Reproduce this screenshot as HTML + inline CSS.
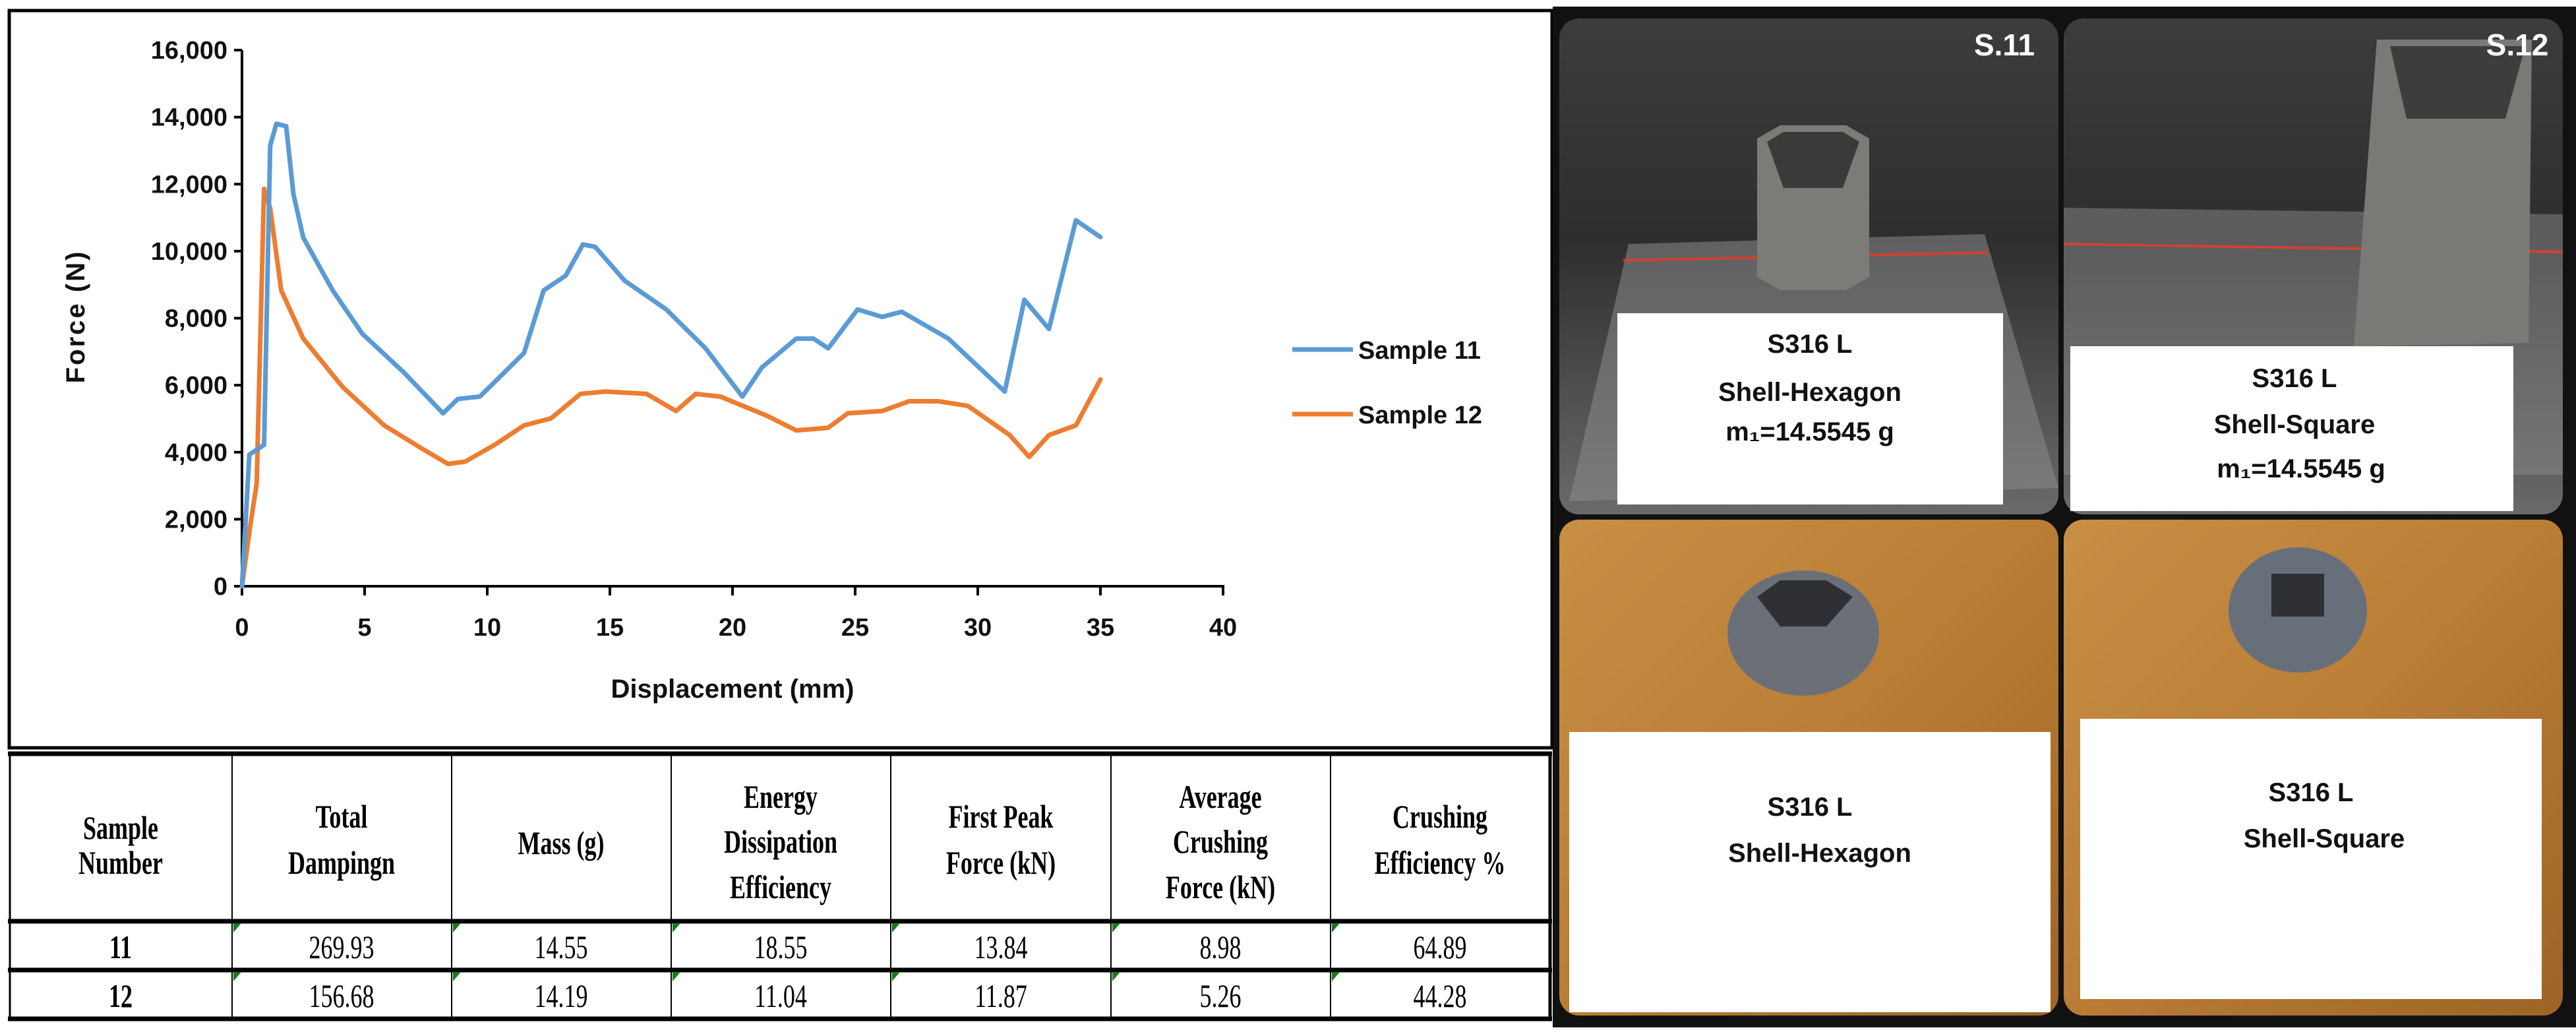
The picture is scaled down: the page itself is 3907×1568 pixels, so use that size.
<!DOCTYPE html>
<html><head><meta charset="utf-8"><style>
html,body{margin:0;padding:0;background:#fff;}
svg{display:block;}
.t{font-family:"Liberation Sans",sans-serif;font-weight:bold;}
.s{font-family:"Liberation Serif",serif;}
</style></head><body>
<svg id="root" width="3907" height="1568" viewBox="0 0 3907 1568" xmlns="http://www.w3.org/2000/svg">
<defs>
<linearGradient id="gdark" x1="0" y1="0" x2="0" y2="1"><stop offset="0" stop-color="#3c3c3c"/><stop offset="0.45" stop-color="#2e2e2e"/><stop offset="1" stop-color="#6a6a6a"/></linearGradient>
<linearGradient id="gwood" x1="0" y1="0" x2="1" y2="1"><stop offset="0" stop-color="#c98f45"/><stop offset="0.5" stop-color="#b97d36"/><stop offset="1" stop-color="#9c6426"/></linearGradient>
</defs>
<!-- chart frame -->
<rect x="14" y="16" width="2340" height="1118" fill="#fff" stroke="#000" stroke-width="5"/>
<g id="chart"></g>

<!-- table -->
<g id="table">
<rect x="15" y="1143" width="2336" height="402" fill="#fff" stroke="none"/>
<line x1="12" y1="1143" x2="2354" y2="1143" stroke="#000" stroke-width="7"/>
<line x1="12" y1="1397" x2="2354" y2="1397" stroke="#000" stroke-width="7"/>
<line x1="12" y1="1471" x2="2354" y2="1471" stroke="#000" stroke-width="7"/>
<line x1="12" y1="1545" x2="2354" y2="1545" stroke="#000" stroke-width="7"/>
<line x1="15" y1="1143" x2="15" y2="1545" stroke="#000" stroke-width="3"/>
<line x1="352" y1="1143" x2="352" y2="1545" stroke="#000" stroke-width="2"/>
<line x1="685" y1="1143" x2="685" y2="1545" stroke="#000" stroke-width="2"/>
<line x1="1018" y1="1143" x2="1018" y2="1545" stroke="#000" stroke-width="2"/>
<line x1="1351" y1="1143" x2="1351" y2="1545" stroke="#000" stroke-width="2"/>
<line x1="1685" y1="1143" x2="1685" y2="1545" stroke="#000" stroke-width="2"/>
<line x1="2018" y1="1143" x2="2018" y2="1545" stroke="#000" stroke-width="2"/>
<line x1="2351" y1="1143" x2="2351" y2="1545" stroke="#000" stroke-width="5"/>
<g class="s" font-weight="bold" font-size="50" text-anchor="middle" fill="#000">
<g><text transform="translate(183,1272) scale(0.72,1)">Sample</text><text transform="translate(183,1325) scale(0.72,1)">Number</text></g>
<g><text transform="translate(518,1255) scale(0.72,1)">Total</text><text transform="translate(518,1325) scale(0.72,1)">Dampingn</text></g>
<g><text transform="translate(851,1295) scale(0.72,1)">Mass (g)</text></g>
<g><text transform="translate(1184,1225) scale(0.72,1)">Energy</text><text transform="translate(1184,1293) scale(0.72,1)">Dissipation</text><text transform="translate(1184,1362) scale(0.72,1)">Efficiency</text></g>
<g><text transform="translate(1518,1255) scale(0.72,1)">First Peak</text><text transform="translate(1518,1325) scale(0.72,1)">Force (kN)</text></g>
<g><text transform="translate(1851,1225) scale(0.72,1)">Average</text><text transform="translate(1851,1293) scale(0.72,1)">Crushing</text><text transform="translate(1851,1362) scale(0.72,1)">Force (kN)</text></g>
<g><text transform="translate(2184,1255) scale(0.72,1)">Crushing</text><text transform="translate(2184,1325) scale(0.72,1)">Efficiency %</text></g>
<text transform="translate(183,1453) scale(0.72,1)">11</text>
<text transform="translate(183,1527) scale(0.72,1)">12</text>
</g>
<g class="s" font-size="50" text-anchor="middle" fill="#000">
<text transform="translate(518,1453) scale(0.72,1)">269.93</text>
<text transform="translate(851,1453) scale(0.72,1)">14.55</text>
<text transform="translate(1184,1453) scale(0.72,1)">18.55</text>
<text transform="translate(1518,1453) scale(0.72,1)">13.84</text>
<text transform="translate(1851,1453) scale(0.72,1)">8.98</text>
<text transform="translate(2184,1453) scale(0.72,1)">64.89</text>
<text transform="translate(518,1527) scale(0.72,1)">156.68</text>
<text transform="translate(851,1527) scale(0.72,1)">14.19</text>
<text transform="translate(1184,1527) scale(0.72,1)">11.04</text>
<text transform="translate(1518,1527) scale(0.72,1)">11.87</text>
<text transform="translate(1851,1527) scale(0.72,1)">5.26</text>
<text transform="translate(2184,1527) scale(0.72,1)">44.28</text>
</g>
<g fill="#1a7a1a">
<path d="M354,1400 l12,0 l-12,14z"/><path d="M687,1400 l12,0 l-12,14z"/><path d="M1020,1400 l12,0 l-12,14z"/><path d="M1353,1400 l12,0 l-12,14z"/><path d="M1687,1400 l12,0 l-12,14z"/><path d="M2020,1400 l12,0 l-12,14z"/>
<path d="M354,1474 l12,0 l-12,14z"/><path d="M687,1474 l12,0 l-12,14z"/><path d="M1020,1474 l12,0 l-12,14z"/><path d="M1353,1474 l12,0 l-12,14z"/><path d="M1687,1474 l12,0 l-12,14z"/><path d="M2020,1474 l12,0 l-12,14z"/>
</g>
</g>

<!-- photo panel -->
<g>
<rect x="2355" y="10" width="1552" height="1548" fill="#111"/>
<g>
<rect x="2365" y="28" width="757" height="752" rx="30" fill="url(#gdark)"/>
<path d="M2470,370 L3010,355 L3122,740 L2380,760z" fill="#8a8a8a" opacity="0.55"/>
<line x1="2462" y1="395" x2="3015" y2="383" stroke="#d2412e" stroke-width="4"/>
<polygon points="2665,210 2700,190 2800,190 2835,210 2835,420 2800,440 2700,440 2665,420" fill="#7d7b78"/>
<polygon points="2680,215 2705,200 2795,200 2820,215 2795,285 2705,285" fill="#3b3a38"/>
<rect x="2453" y="475" width="585" height="290" fill="#fff"/>
<text x="3040" y="84" class="t" font-size="46" fill="#fff" text-anchor="middle">S.11</text>
<g class="t" font-size="40" fill="#111" text-anchor="middle">
<text x="2745" y="535">S316 L</text>
<text x="2745" y="608">Shell-Hexagon</text>
<text x="2745" y="668">m₁=14.5545 g</text>
</g>
</g>
<g>
<rect x="3130" y="28" width="757" height="752" rx="30" fill="url(#gdark)"/>
<path d="M3130,315 L3887,325 L3887,720 L3130,720z" fill="#8a8a8a" opacity="0.5"/>
<line x1="3130" y1="370" x2="3887" y2="382" stroke="#d2412e" stroke-width="4"/>
<polygon points="3605,60 3840,60 3835,520 3570,525" fill="#7b7975"/>
<polygon points="3625,70 3830,70 3800,180 3650,180" fill="#3e3d3b"/>
<rect x="3140" y="525" width="672" height="250" fill="#fff"/>
<text x="3818" y="84" class="t" font-size="46" fill="#fff" text-anchor="middle">S.12</text>
<g class="t" font-size="40" fill="#111" text-anchor="middle">
<text x="3480" y="587">S316 L</text>
<text x="3480" y="657">Shell-Square</text>
<text x="3490" y="724">m₁=14.5545 g</text>
</g>
</g>
<g>
<rect x="2365" y="788" width="757" height="752" rx="30" fill="url(#gwood)"/>
<ellipse cx="2735" cy="960" rx="115" ry="95" fill="#6b7078"/>
<polygon points="2665,905 2700,880 2770,880 2810,905 2770,950 2700,950" fill="#2e3034"/>
<rect x="2380" y="1110" width="730" height="425" fill="#fff"/>
<g class="t" font-size="40" fill="#111" text-anchor="middle">
<text x="2745" y="1237">S316 L</text>
<text x="2760" y="1307">Shell-Hexagon</text>
</g>
</g>
<g>
<rect x="3130" y="788" width="757" height="752" rx="30" fill="url(#gwood)"/>
<ellipse cx="3485" cy="925" rx="105" ry="95" fill="#67707a"/>
<rect x="3445" y="870" width="80" height="65" fill="#2e3034"/>
<rect x="3155" y="1090" width="700" height="425" fill="#fff"/>
<g class="t" font-size="40" fill="#111" text-anchor="middle">
<text x="3505" y="1215">S316 L</text>
<text x="3525" y="1285">Shell-Square</text>
</g>
</g>
</g>
</svg>
<script>
const xTicks = [0,5,10,15,20,25,30,35,40];
const yTicks = [0,2000,4000,6000,8000,10000,12000,14000,16000];
const yTickLabels = ["0","2,000","4,000","6,000","8,000","10,000","12,000","14,000","16,000"];
const s11X = [0,0.3,0.9,1.15,1.4,1.8,2.1,2.5,3.7,4.9,6.6,8.2,8.8,9.7,11.5,12.3,13.2,13.9,14.4,15.6,17.3,18.9,20.4,21.2,22.6,23.3,23.9,25.1,26.1,26.9,28.8,31.1,31.9,32.9,34,35];
const s11Y = [0,3930,4220,13150,13800,13730,11700,10400,8830,7540,6380,5160,5590,5660,6960,8830,9270,10200,10130,9120,8260,7100,5660,6530,7390,7390,7100,8260,8040,8190,7390,5810,8550,7680,10920,10420];
const s12X = [0,0.3,0.6,0.9,1.15,1.6,2.5,4.1,5.8,7.4,8.4,9.1,10.3,11.5,12.6,13.8,14.8,16.5,17.7,18.5,19.5,21.4,22.6,23.9,24.7,26.1,27.2,28.4,29.6,31.3,32.1,32.9,34,35];
const s12Y = [0,1630,3070,11860,11280,8830,7390,5950,4800,4080,3650,3720,4220,4800,5010,5740,5810,5740,5230,5740,5660,5090,4650,4730,5160,5230,5520,5520,5380,4510,3860,4510,4800,6170];
const seriesNames = ["Sample 11","Sample 12"];

const NS = "http://www.w3.org/2000/svg";
const g = document.getElementById('chart');
const X0 = 367, X1 = 1855, Y0 = 889, Y1 = 76;
function xs(v){ return X0 + (v - 0) / 40 * (X1 - X0); }
function ys(v){ return Y0 - v / 16000 * (Y0 - Y1); }
function mk(tag, attrs){ const e = document.createElementNS(NS, tag); for (const k in attrs) e.setAttribute(k, attrs[k]); return e; }

const yAxis = mk('line',{x1:xs(0),y1:ys(0),x2:xs(0),y2:ys(16000),stroke:'#000','stroke-width':4});


g.appendChild(yAxis);
const xAxis = mk('line',{x1:xs(0)-2,y1:ys(0),x2:xs(40)+2,y2:ys(0),stroke:'#000','stroke-width':4});


g.appendChild(xAxis);

yTicks.forEach((v,i)=>{
  const t = mk('line',{x1:xs(0)-12,y1:ys(v),x2:xs(0),y2:ys(v),stroke:'#000','stroke-width':4});
  g.appendChild(t);
  const lb = mk('text',{x:xs(0)-22,y:ys(v)+13,'text-anchor':'end','font-size':38,'font-weight':'bold','font-family':'Liberation Sans, sans-serif',fill:'#111'});
  lb.textContent = yTickLabels[i];
  
  
  g.appendChild(lb);
});
xTicks.forEach((v)=>{
  const t = mk('line',{x1:xs(v),y1:ys(0),x2:xs(v),y2:ys(0)+14,stroke:'#000','stroke-width':4});
  g.appendChild(t);
  const lb = mk('text',{x:xs(v),y:ys(0)+75,'text-anchor':'middle','font-size':38,'font-weight':'bold','font-family':'Liberation Sans, sans-serif',fill:'#111'});
  lb.textContent = String(v);
  
  
  g.appendChild(lb);
});
const xt = mk('text',{x:(xs(0)+xs(40))/2,y:1058,'text-anchor':'middle','font-size':40,'font-weight':'bold','font-family':'Liberation Sans, sans-serif',fill:'#111'});
xt.textContent = 'Displacement (mm)';


g.appendChild(xt);
const yt = mk('text',{x:0,y:0,transform:'translate(128,480) rotate(-90)','text-anchor':'middle','font-size':40,'font-weight':'bold','font-family':'Liberation Sans, sans-serif',fill:'#111','letter-spacing':'3'});
yt.textContent = 'Force (N)';


g.appendChild(yt);

function addSeries(xArr, yArr, color, name){
  let d = '';
  for (let i = 0; i < xArr.length; i++) d += (i ? 'L' : 'M') + xs(xArr[i]).toFixed(1) + ',' + ys(yArr[i]).toFixed(1);
  const p = mk('path',{d:d,fill:'none',stroke:color,'stroke-width':7,'stroke-linejoin':'round','stroke-linecap':'round'});
  
  
  g.appendChild(p);
}
addSeries(s12X, s12Y, '#ED7D31', 'series-sample-12');
addSeries(s11X, s11Y, '#5B9BD5', 'series-sample-11');

const legColors = ['#5B9BD5','#ED7D31'];
const legY = [530, 628];
seriesNames.forEach((n,i)=>{
  const l = mk('line',{x1:1960,y1:legY[i],x2:2052,y2:legY[i],stroke:legColors[i],'stroke-width':7});
  
  
  g.appendChild(l);
  const t = mk('text',{x:2060,y:legY[i]+14,'font-size':38,'font-weight':'bold','font-family':'Liberation Sans, sans-serif',fill:'#111'});
  t.textContent = n;
  
  
  g.appendChild(t);
});
</script>
</body></html>
